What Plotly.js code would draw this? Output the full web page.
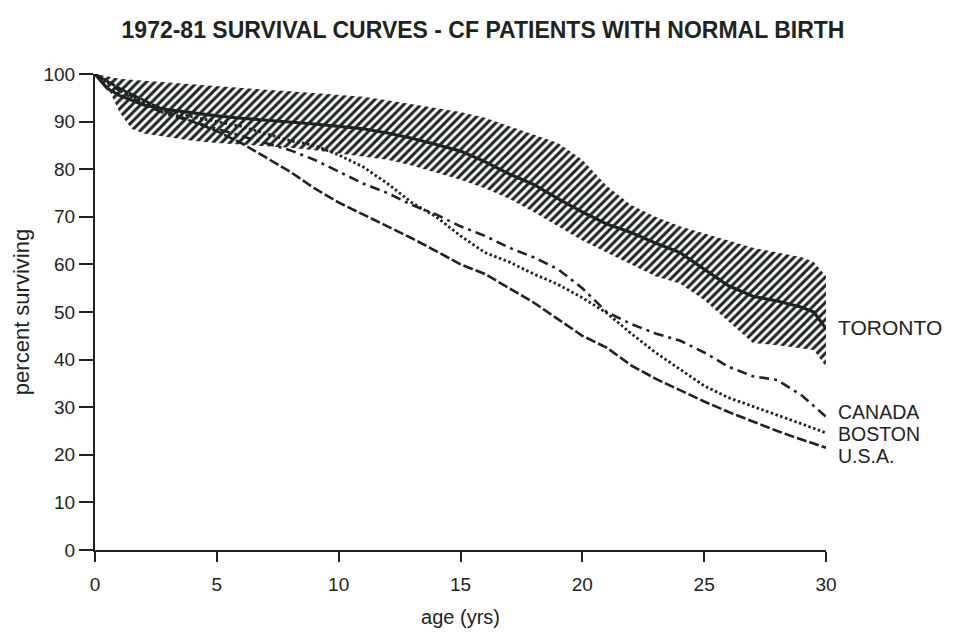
<!DOCTYPE html>
<html>
<head>
<meta charset="utf-8">
<script src="https://cdn.plot.ly/plotly-3.0.1.min.js"></script>
<style>html,body{margin:0;padding:0;background:#fff;}#chart{width:956px;height:634px;}</style>
</head>
<body>
<div id="chart"></div>
<script>
// ---- data ----
const ageToronto = [0,0.5,1,1.5,2,3,4,5,6,7,8,9,10,11,12,13,14,15,16,17,18,19,20,21,22,23,24,25,26,27,28,29,29.5,30];
const torontoMid = [100,97,95.5,94.5,93.5,92.5,91.8,91.2,90.7,90.3,90,89.5,89,88.5,87.6,86.5,85.2,83.8,81.6,79,76.8,73.8,71,68.5,66.7,64.5,62.5,59,55.5,53.3,52.3,51,50,46.5];
const torontoUpper = [100,99.5,99,98.8,98.6,98.2,97.8,97.4,97,96.7,96.4,96,95.6,95.2,94.5,93.7,92.9,92,90.8,89,87.3,85.5,82,76.5,72.5,70,68,66.5,65,63.5,62.5,61.5,60.5,57.5];
const torontoLower = [99.5,97.5,92,88.5,87.5,86.7,86,85.5,85.2,84.9,84.5,84,83.3,82.7,82,80.8,79.3,77.8,76,73.8,71,68,65,62.5,60,57.5,56,52.5,48,43.5,43,42.3,42,38.5];

const ages = [0,1,2,3,4,5,6,7,8,9,10,11,12,13,14,15,16,17,18,19,20,21,22,23,24,25,26,27,28,29,30];
const canada = [100,96.5,93.5,91.5,90,88.5,87,85.5,84,82,79.5,77,75,72.5,70.5,68,66,63.5,61.5,59,55,50,47.5,45.5,44,41.5,38.5,36.5,35.7,32.5,28];
const boston = [100,97,94,92.5,91,90,89,87.5,86,85,83,80.5,77,73,70,66,62.5,60.5,58,55.8,53,49.8,45.5,41.5,38,34.5,32,30.2,28.4,26.5,24.6];
const usa = [100,97,94.5,92,90,88,85.5,82.5,79.5,76,73,70.5,68,65.5,62.8,60,58,55,52,48.5,45,42.5,38.8,36,33.6,31.2,29,27,25,23.2,21.5];

const seriesLabels = ["TORONTO","CANADA","BOSTON","U.S.A."];
const labelY = [46.8, 29.0, 24.4, 19.8];
const labelSize = [21, 19.5, 19.5, 19.5];
const xTicks = [0,5,10,15,20,25,30];
const yTicks = [0,10,20,30,40,50,60,70,80,90,100];

const INK = '#1f2421';
const FONT = '"Liberation Sans", Arial, Helvetica, sans-serif';

const traces = [
  {x: ageToronto, y: torontoLower, mode:'lines', line:{width:0, color:INK}, hoverinfo:'skip', showlegend:false},
  {x: ageToronto, y: torontoUpper, mode:'lines', line:{width:0, color:INK}, fill:'tonexty',
   fillcolor:'rgba(0,0,0,0)',
   fillpattern:{shape:'/', fgcolor:INK, bgcolor:'rgba(0,0,0,0)', size:6, solidity:0.5, fillmode:'replace'},
   hoverinfo:'skip', showlegend:false},
  {x: ages, y: usa, mode:'lines', name:'U.S.A.', line:{color:INK, width:2.6, dash:'10px,3px'}, showlegend:false},
  {x: ages, y: boston, mode:'lines', name:'BOSTON', line:{color:INK, width:2.8, dash:'2.5px,2.5px'}, showlegend:false},
  {x: ages, y: canada, mode:'lines', name:'CANADA', line:{color:INK, width:2.6, dash:'10px,5px,3px,5px'}, showlegend:false},
  {x: ageToronto, y: torontoMid, mode:'lines', name:'TORONTO', line:{color:INK, width:3.2}, showlegend:false}
];

const annotations = seriesLabels.map((t,i)=>({
  x: 30, y: labelY[i], xref:'x', yref:'y', text:t, showarrow:false,
  xanchor:'left', yanchor:'middle', xshift:10,
  font:{family:FONT, size:labelSize[i], color:INK}
}));

const layout = {
  width:956, height:634,
  margin:{l:95, r:130, t:74, b:84},
  paper_bgcolor:'#fff', plot_bgcolor:'#fff',
  title:{text:'1972-81 SURVIVAL CURVES - CF PATIENTS WITH NORMAL BIRTH',
    font:{family:FONT, size:23, color:INK, weight:'bold'},
    x:483/956, xref:'container', xanchor:'center', y:1-30/634, yref:'container', yanchor:'middle'},
  xaxis:{range:[0,30], tickvals:xTicks, ticktext:xTicks.map(String), showgrid:false, zeroline:false,
    showline:true, linecolor:INK, linewidth:2, ticks:'outside', ticklen:10, tickwidth:2, tickcolor:INK,
    ticklabelstandoff:6,
    tickfont:{family:FONT, size:19, color:INK},
    title:{text:'age (yrs)', font:{family:FONT, size:20, color:INK}, standoff:16}},
  yaxis:{range:[0,100], tickvals:yTicks, ticktext:yTicks.map(String), showgrid:false, zeroline:false,
    showline:true, linecolor:INK, linewidth:2, ticks:'outside', ticklen:14, tickwidth:2, tickcolor:INK,
    tickfont:{family:FONT, size:19, color:INK},
    title:{text:'percent surviving', font:{family:FONT, size:22, color:INK}, standoff:8}},
  annotations: annotations,
  showlegend:false
};

Plotly.newPlot('chart', traces, layout, {staticPlot:true, displayModeBar:false});
</script>
</body>
</html>
